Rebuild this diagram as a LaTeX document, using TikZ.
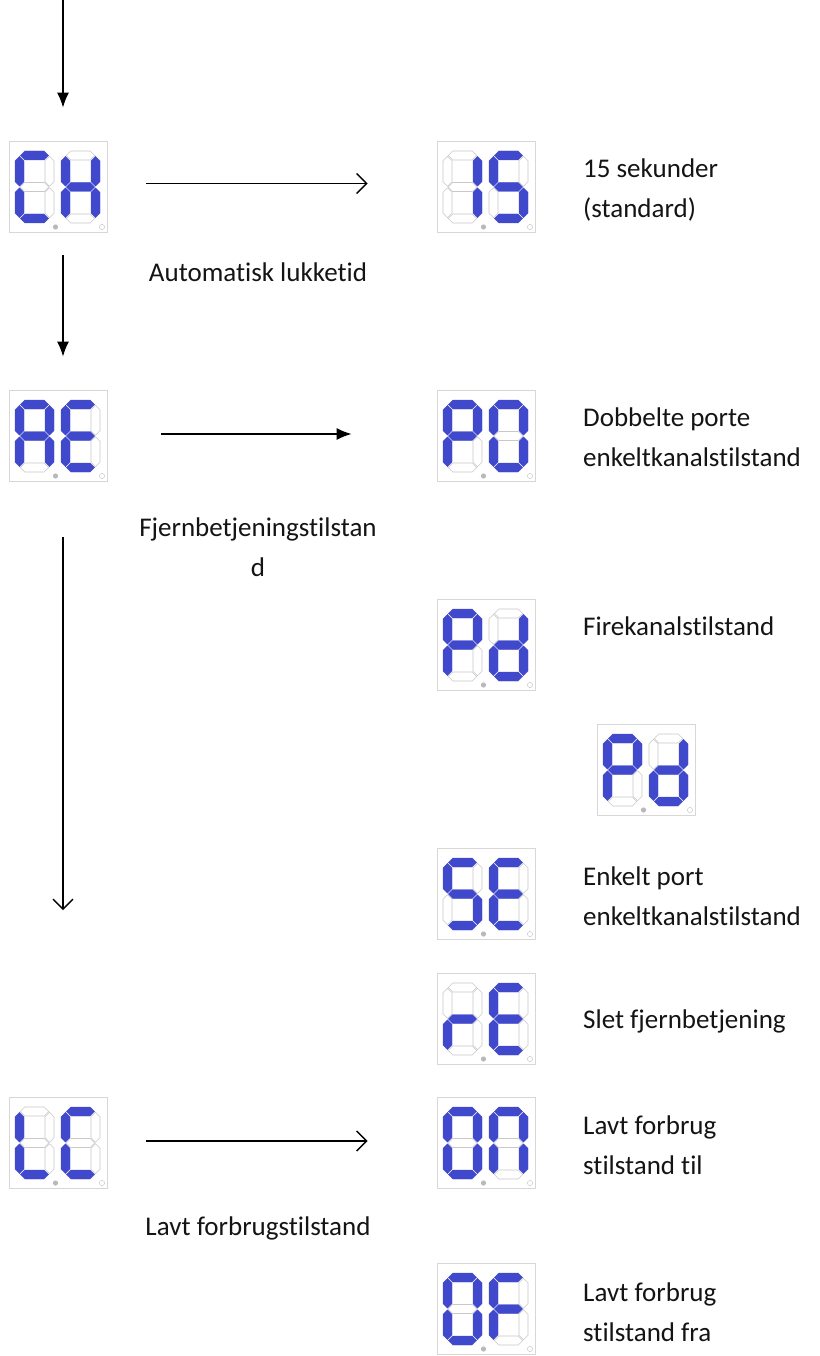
\documentclass[tikz,border=0pt]{standalone}
\usepackage{fontspec}
\setmainfont{Carlito}[Ligatures=NoCommon]
\usetikzlibrary{arrows.meta}
\definecolor{segblue}{RGB}{64,72,204}
\definecolor{segoff}{RGB}{200,200,200}
\definecolor{boxgray}{RGB}{215,215,215}
\definecolor{txt}{RGB}{20,20,20}
\tikzset{
  dispbox/.style={draw=boxgray, line width=0.8pt, minimum width=98pt, minimum height=91pt, inner sep=0pt, fill=white},
  seg1/.style={fill=segblue, draw=segblue, line width=0.3pt, line join=round},
  seg0/.style={fill=white, draw=segoff, line width=0.6pt},
  conn/.style={line width=1.4pt, draw=black},
  filledtip/.style={-{Latex[length=15pt,width=12pt]}},
  opentip/.style={-{Straight Barb[length=10pt,width=20pt,line width=1.4pt]}},
  lbl/.style={font=\fontsize{27}{40}\selectfont, text=txt, inner sep=0pt, align=left, anchor=west},
  clbl/.style={font=\fontsize{27}{40}\selectfont, text=txt, inner sep=0pt, align=center}
}
% horizontal segment: bit, cx, cy
\newcommand\hsegm[3]{%
  \path[seg#1] (#2-14.2,#3) -- ++(4.5,4.5) -- ++(19.4,0) -- ++(4.5,-4.5) -- ++(-4.5,-4.5) -- ++(-19.4,0) -- cycle;}
% vertical segment: bit, cx, cy
\newcommand\vsegm[3]{%
  \path[seg#1] (#2,#3-14.95) -- ++(4.5,4.5) -- ++(0,20.9) -- ++(-4.5,4.5) -- ++(-4.5,-4.5) -- ++(0,-20.9) -- cycle;}
\def\parsebits#1#2#3#4#5#6#7\relax{%
  \hsegm{#1}{19.5}{4.5}%    a
  \vsegm{#2}{34.5}{20.25}%  b
  \vsegm{#3}{34.5}{51.75}%  c
  \hsegm{#4}{19.5}{67.5}%   d
  \vsegm{#5}{4.5}{51.75}%   e
  \vsegm{#6}{4.5}{20.25}%   f
  \hsegm{#7}{19.5}{36}%     g
}
\newcommand\sdigit[3]{%
  \begin{scope}[shift={(#1,#2)}]\parsebits#3\relax\end{scope}}
\newcommand\display[5]{%
  \node[dispbox] (#1) at (#2,#3) {};
  \begin{scope}[shift={(#2-49,#3-45.5)}]
    \sdigit{6}{10}{#4}
    \sdigit{52}{10}{#5}
    \fill[gray!55] (46.5,86) circle[radius=2.6pt];
    \draw[gray!40, fill=white, line width=0.5pt] (93,86) circle[radius=2.6pt];
  \end{scope}}
\begin{document}
\begin{tikzpicture}[x=1pt,y=-1pt]
\useasboundingbox (0,0) rectangle (819,1356);
\fill[white] (0,0) rectangle (819,1356);

\display{ch}{58}{186.5}{1001110}{0110111}
\display{d15}{486}{186.5}{0110000}{1011011}
\display{ae}{58}{435.5}{1110111}{1001111}
\display{po}{486}{435.5}{1100111}{1111110}
\display{pda}{486}{644.5}{1100111}{0111101}
\display{pdb}{646}{769.5}{1100111}{0111101}
\display{se}{486}{893.5}{1011011}{1001111}
\display{re}{486}{1018.5}{0000101}{1001111}
\display{lc}{58}{1142.5}{0001110}{1001110}
\display{on}{486}{1142.5}{1111110}{1110110}
\display{of}{486}{1308.5}{1111110}{1000111}

\coordinate (top) at (63,0);
\coordinate (endv) at (63,910);

% vertical arrows
\draw[conn,filledtip,shorten >=33pt] (top) -- (top |- ch.north);
\draw[conn,filledtip,shorten <=23pt,shorten >=33pt] (top |- ch.south) -- (top |- ae.north);
\draw[conn,opentip,shorten <=56pt] (top |- ae.south) -- (endv);

% horizontal arrows
\draw[conn,opentip,shorten <=39pt,shorten >=69pt] ([yshift=3pt]ch.east) -- ([yshift=3pt]d15.west);
\draw[conn,filledtip,shorten <=54pt,shorten >=85pt] ([yshift=1.5pt]ae.east) -- ([yshift=1.5pt]po.west);
\draw[conn,opentip,shorten <=39pt,shorten >=69pt] ([yshift=1.5pt]lc.east) -- ([yshift=1.5pt]on.west);

% labels under left displays
\node[clbl] (l1) at (258,272) {Automatisk lukketid};
\node[clbl] (l2) at (258,547) {Fjernbetjeningstilstan\\d};
\node[clbl] (l3) at (258,1228) {Lavt forbrugstilstand};

% right labels
\node[lbl] (r1) at (583,190) {15 sekunder\\(standard)};
\node[lbl] (r2) at (583,437) {Dobbelte porte\\enkeltkanalstilstand};
\node[lbl] (r3) at (583,626) {Firekanalstilstand};
\node[lbl] (r4) at (583,896) {Enkelt port\\enkeltkanalstilstand};
\node[lbl] (r5) at (583,1021) {Slet fjernbetjening};
\node[lbl] (r6) at (583,1145) {Lavt forbrug\\stilstand til};
\node[lbl] (r7) at (583,1312) {Lavt forbrug\\stilstand fra};
\end{tikzpicture}
\end{document}
